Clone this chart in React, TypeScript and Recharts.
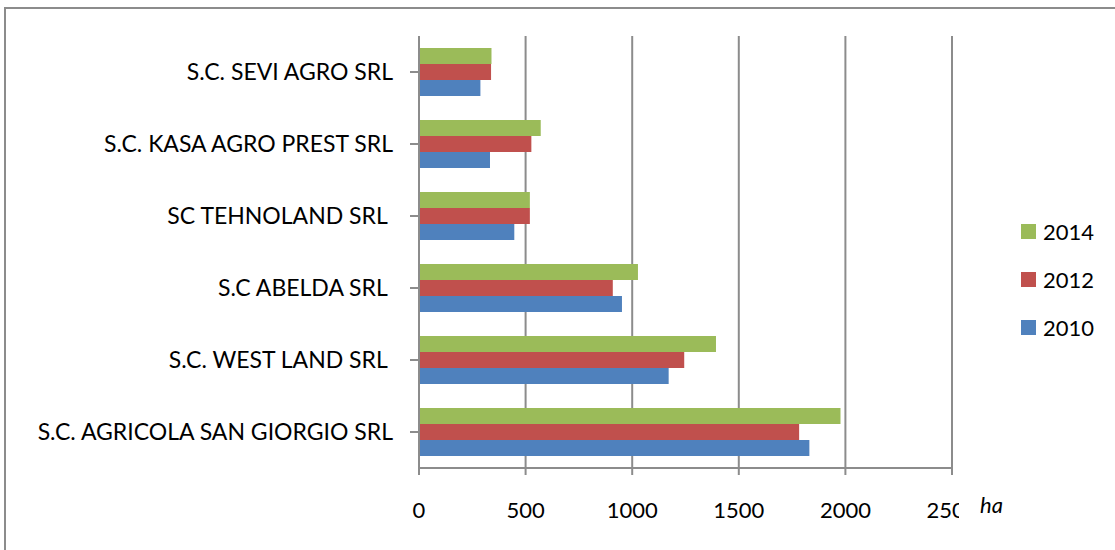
import { BarChart, Bar, XAxis, YAxis, CartesianGrid } from 'recharts';

const companies = [
  'S.C. SEVI AGRO SRL',
  'S.C. KASA AGRO PREST SRL',
  'SC TEHNOLAND SRL ',
  'S.C ABELDA SRL ',
  'S.C. WEST LAND SRL ',
  'S.C. AGRICOLA SAN GIORGIO SRL',
];
const ha2014 = [340, 571, 520, 1027, 1393, 1977];
const ha2012 = [338, 527, 520, 909, 1244, 1783];
const ha2010 = [288, 333, 447, 952, 1171, 1831];
const xTicks = [0, 500, 1000, 1500, 2000, 2500];

const series = [
  { key: 'y2014', name: '2014', color: '#9bbb59' },
  { key: 'y2012', name: '2012', color: '#c0504d' },
  { key: 'y2010', name: '2010', color: '#4f81bd' },
];

const data = companies.map((name, i) => ({
  name,
  y2014: ha2014[i],
  y2012: ha2012[i],
  y2010: ha2010[i],
}));

const FONT = 'Lato, "Open Sans", sans-serif';

function CategoryTick(props: any) {
  const { x, y, payload } = props;
  return (
    <text x={x} y={y} dy="0.35em" textAnchor="end" fill="#000" fontSize={23} fontFamily={FONT} style={{ whiteSpace: 'pre' }}>
      {payload.value}
    </text>
  );
}

function ValueTick(props: any) {
  const { x, y, payload } = props;
  return (
    <text x={x} y={y} dy="0.71em" textAnchor="middle" fill="#000" fontSize={22} fontFamily={FONT} clipPath="url(#tickClip)">
      {payload.value}
    </text>
  );
}

function LegendBox() {
  return (
    <div style={{ position: 'absolute', left: 1021, top: 207, fontFamily: FONT, fontSize: 22, color: '#000' }}>
      {series.map((s) => (
        <div key={s.key} style={{ display: 'flex', alignItems: 'center', height: 48 }}>
          <span style={{ width: 15, height: 15, background: s.color, marginRight: 7 }} />
          <span>{s.name}</span>
        </div>
      ))}
    </div>
  );
}

export default function App() {
  return (
    <div style={{ position: 'absolute', left: 0, top: 0, width: 1115, height: 550, overflow: 'hidden', background: '#fff' }}>
      <div style={{ position: 'absolute', left: 4, top: 7, width: 1200, height: 600, border: '2px solid #8c8c8c' }} />
      <BarChart
        width={1115}
        height={550}
        layout="vertical"
        data={data}
        margin={{ top: 36, right: 163, bottom: 42, left: 0 }}
        barCategoryGap={12}
        barGap={0}
        style={{ position: 'absolute', left: 0, top: 0 }}
      >
        <defs>
          <clipPath id="tickClip">
            <rect x={0} y={0} width={959} height={550} />
          </clipPath>
        </defs>
        <CartesianGrid horizontal={false} stroke="#8c8c8c" strokeWidth={2} />
        <XAxis
          type="number"
          domain={[0, 2500]}
          ticks={xTicks}
          height={40}
          stroke="#8c8c8c"
          strokeWidth={2}
          tickSize={7}
          tickMargin={27}
          tick={<ValueTick />}
          interval={0}
        />
        <YAxis
          type="category"
          dataKey="name"
          width={419}
          stroke="#8c8c8c"
          strokeWidth={2}
          tickSize={9}
          tickMargin={17}
          tick={<CategoryTick />}
          interval={0}
        />
        {series.map((s) => (
          <Bar key={s.key} dataKey={s.key} name={s.name} fill={s.color} isAnimationActive={false} />
        ))}
        <text x={980} y={513} fontSize={22} fontStyle="italic" fontFamily={FONT} fill="#000">ha</text>
      </BarChart>
      <LegendBox />
    </div>
  );
}
